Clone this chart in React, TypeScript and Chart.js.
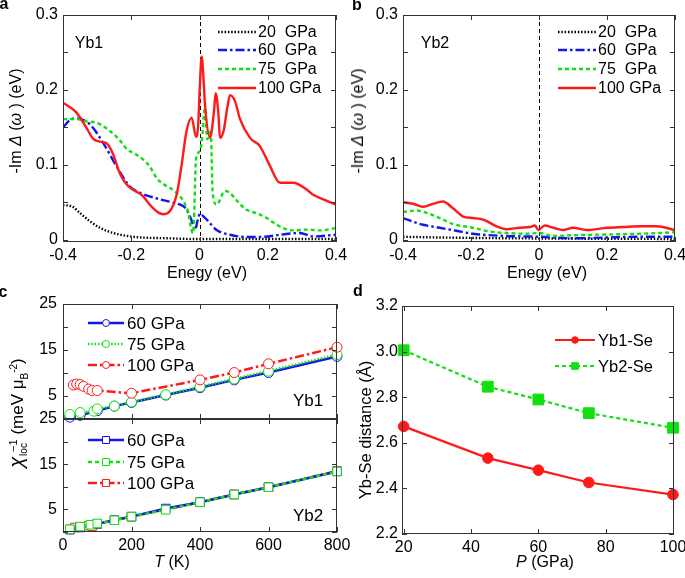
import React, { useEffect, useRef } from 'react';
import { Chart, registerables } from 'chart.js';
Chart.register(...registerables);

const FONT = '"Liberation Sans", Arial, Helvetica, sans-serif';
const W = 685;
const H = 578;

const RED = '#ff1a1a';
const BLUE = '#1414f0';
const GREEN = '#10e010';
const BLACK = '#000000';

// ---------- Panel a (Yb1) ----------
const A_BLACK_E = [-0.4, -0.376, -0.351, -0.322, -0.292, -0.253, -0.195, -0.097, 0.0, 0.4];
const A_BLACK_V = [0.046, 0.045, 0.036, 0.025, 0.016, 0.009, 0.004, 0.002, 0.001, 0.001];
const A_BLUE_E = [-0.4, -0.379, -0.361, -0.321, -0.282, -0.243, -0.204, -0.174, -0.146, -0.116, -0.072, -0.048, -0.0375, -0.025, -0.013, -0.006, 0.0015, 0.01, 0.021, 0.05, 0.089, 0.138, 0.19, 0.236, 0.294, 0.333, 0.4];
const A_BLUE_V = [0.15, 0.16, 0.162, 0.154, 0.129, 0.098, 0.071, 0.0625, 0.058, 0.054, 0.049, 0.045, 0.04, 0.028, 0.013, 0.025, 0.035, 0.032, 0.027, 0.013, 0.0067, 0.0036, 0.004, 0.0067, 0.009, 0.0045, 0.0067];
const A_GREEN_E = [-0.4, -0.361, -0.332, -0.301, -0.262, -0.234, -0.213, -0.19, -0.165, -0.146, -0.125, -0.105, -0.086, -0.057, -0.045, -0.033, -0.025, -0.018, -0.0103, -0.0035, 0.0064, 0.016, 0.0229, 0.0328, 0.0386, 0.05, 0.0747, 0.089, 0.11, 0.138, 0.17, 0.197, 0.22, 0.245, 0.275, 0.314, 0.353, 0.4];
const A_GREEN_V = [0.161, 0.161, 0.158, 0.156, 0.145, 0.133, 0.121, 0.115, 0.107, 0.098, 0.082, 0.074, 0.069, 0.058, 0.05, 0.036, 0.015, 0.009, 0.107, 0.116, 0.129, 0.176, 0.134, 0.147, 0.0625, 0.047, 0.065, 0.0625, 0.052, 0.04, 0.035, 0.029, 0.022, 0.0156, 0.0125, 0.0135, 0.0125, 0.0156];
const A_RED_E = [-0.4, -0.361, -0.332, -0.312, -0.292, -0.273, -0.253, -0.234, -0.214, -0.195, -0.165, -0.146, -0.126, -0.107, -0.087, -0.067, -0.053, -0.038, -0.0229, -0.0103, -0.004, 0.001, 0.0064, 0.013, 0.016, 0.0308, 0.035, 0.043, 0.0474, 0.055, 0.06, 0.071, 0.081, 0.0894, 0.104, 0.1187, 0.148, 0.177, 0.205, 0.236, 0.275, 0.314, 0.333, 0.363, 0.4];
const A_RED_V = [0.183, 0.17, 0.15, 0.135, 0.131, 0.129, 0.114, 0.089, 0.074, 0.067, 0.058, 0.047, 0.038, 0.034, 0.038, 0.06, 0.098, 0.145, 0.163, 0.1375, 0.152, 0.205, 0.2446, 0.205, 0.181, 0.136, 0.143, 0.174, 0.1955, 0.17, 0.136, 0.146, 0.175, 0.193, 0.185, 0.161, 0.136, 0.125, 0.1, 0.076, 0.076, 0.067, 0.06, 0.054, 0.047];

// ---------- Panel b (Yb2) ----------
const B_BLACK_E = [-0.4, -0.292, -0.096, 0.4];
const B_BLACK_V = [0.004, 0.003, 0.002, 0.001];
const B_BLUE_E = [-0.4, -0.341, -0.292, -0.243, -0.194, -0.096, 0.002, 0.1, 0.198, 0.296, 0.4];
const B_BLUE_V = [0.029, 0.02, 0.016, 0.012, 0.008, 0.005, 0.004, 0.002, 0.003, 0.004, 0.004];
const B_GREEN_E = [-0.4, -0.361, -0.331, -0.292, -0.253, -0.194, -0.145, -0.096, -0.037, 0.002, 0.041, 0.1, 0.198, 0.296, 0.4];
const B_GREEN_V = [0.037, 0.039, 0.036, 0.029, 0.021, 0.016, 0.011, 0.009, 0.008, 0.009, 0.005, 0.006, 0.007, 0.008, 0.01];
const B_RED_E = [-0.4, -0.371, -0.341, -0.312, -0.282, -0.253, -0.223, -0.194, -0.164, -0.125, -0.096, -0.057, -0.027, -0.012, -0.002, 0.017, 0.042, 0.071, 0.1, 0.14, 0.2, 0.248, 0.3, 0.346, 0.4];
const B_RED_V = [0.05, 0.048, 0.044, 0.048, 0.051, 0.042, 0.031, 0.029, 0.027, 0.018, 0.014, 0.016, 0.017, 0.019, 0.013, 0.019, 0.016, 0.013, 0.016, 0.013, 0.016, 0.017, 0.018, 0.018, 0.013];

const AB_LABELS = ['20  GPa', '60  GPa', '75  GPa', '100 GPa'];
const AB_X_TICKS = [-0.4, -0.2, 0, 0.2, 0.4];
const AB_Y_TICKS = [0, 0.05, 0.1, 0.15, 0.2, 0.25, 0.3];

// ---------- Panel c ----------
const C_LABELS = ['60 GPa', '75 GPa', '100 GPa'];
const C_X_TICKS = [0, 200, 400, 600, 800];
const C_Y_TICKS = [0, 5, 10, 15, 20, 25];
const C1_60_T = [20, 50, 100, 150, 200, 300, 400, 500, 600, 800];
const C1_60_V = [0.4, 0.8, 1.8, 2.8, 3.6, 5.2, 6.8, 8.5, 10.1, 13.6];
const C1_75_T = [20, 50, 90, 100, 150, 200, 300, 400, 500, 600, 800];
const C1_75_V = [1.0, 1.4, 1.7, 2.2, 2.8, 3.7, 5.3, 7.0, 8.7, 10.4, 14.0];
const C1_100_T = [30, 40, 50, 60, 75, 85, 100, 200, 400, 500, 600, 800];
const C1_100_V = [7.4, 7.6, 7.5, 7.1, 6.5, 6.2, 6.2, 5.6, 8.5, 10.1, 12.0, 15.6];
const C2_60_T = [20, 50, 100, 150, 200, 300, 400, 500, 600, 800];
const C2_60_V = [0.5, 1.0, 1.8, 2.65, 3.4, 5.2, 6.6, 8.3, 9.9, 13.4];
const C2_75_T = [20, 50, 80, 100, 150, 200, 300, 400, 500, 600, 800];
const C2_75_V = [0.6, 1.2, 1.6, 1.9, 2.6, 3.4, 4.9, 6.6, 8.3, 9.9, 13.4];
const C2_100_T = [20, 35, 50, 75, 85, 100, 200, 400, 500, 600, 800];
const C2_100_V = [0.6, 1.0, 1.1, 1.4, 1.3, 1.8, 3.4, 6.6, 8.3, 9.9, 13.5];

// ---------- Panel d ----------
const D_P = [20, 45, 60, 75, 100];
const D_YB1 = [2.672, 2.533, 2.48, 2.426, 2.373];
const D_YB2 = [3.006, 2.846, 2.79, 2.73, 2.666];
const D_LABELS = ['Yb1-Se', 'Yb2-Se'];
const D_X_TICKS = [20, 40, 60, 80, 100];
const D_Y_TICKS = [2.2, 2.4, 2.6, 2.8, 3.0, 3.2];

const pts = (xs: number[], ys: number[]) => xs.map((x, i) => ({ x, y: ys[i] }));

const decoPlugin = {
  id: 'deco',
  beforeDatasetsDraw(chart: any, _a: any, o: any) {
    if (o.vline === undefined) return;
    const ctx = chart.ctx;
    const { top, bottom } = chart.chartArea;
    const px = Math.round(chart.scales.x.getPixelForValue(o.vline)) + 0.5;
    ctx.save();
    ctx.strokeStyle = '#000';
    ctx.lineWidth = 1;
    ctx.setLineDash([4, 3]);
    ctx.beginPath();
    ctx.moveTo(px, top);
    ctx.lineTo(px, bottom);
    ctx.stroke();
    ctx.restore();
  },
  afterDraw(chart: any, _a: any, o: any) {
    const ctx = chart.ctx;
    const { left, right, top, bottom } = chart.chartArea;
    const xs = chart.scales.x;
    const ys = chart.scales.y;
    const L = 5;
    ctx.save();
    ctx.strokeStyle = '#333';
    ctx.lineWidth = 1;
    ctx.setLineDash([]);
    ctx.strokeRect(left + 0.5, top + 0.5, right - left - 1, bottom - top - 1);
    ctx.beginPath();
    for (const t of xs.ticks) {
      const px = Math.round(xs.getPixelForValue(t.value)) + 0.5;
      ctx.moveTo(px, bottom);
      ctx.lineTo(px, bottom - L);
      ctx.moveTo(px, top);
      ctx.lineTo(px, top + L);
    }
    for (const t of ys.ticks) {
      const py = Math.round(ys.getPixelForValue(t.value)) + 0.5;
      ctx.moveTo(left, py);
      ctx.lineTo(left + L, py);
      ctx.moveTo(right, py);
      ctx.lineTo(right - L, py);
    }
    ctx.stroke();
    const lg = o.legend;
    if (lg) {
      lg.items.forEach((it: any, i: number) => {
        const y = lg.rows[i];
        ctx.strokeStyle = it.color;
        ctx.lineWidth = it.width;
        ctx.setLineDash(it.dash || []);
        ctx.beginPath();
        ctx.moveTo(lg.x0, y);
        ctx.lineTo(lg.x1, y);
        ctx.stroke();
        ctx.setLineDash([]);
        if (it.marker) {
          const mx = (lg.x0 + lg.x1) / 2;
          const r = it.mr;
          ctx.beginPath();
          if (it.marker === 'circle') ctx.arc(mx, y, r, 0, Math.PI * 2);
          else ctx.rect(mx - r, y - r, 2 * r, 2 * r);
          ctx.fillStyle = it.mfill;
          ctx.fill();
          ctx.lineWidth = 1;
          ctx.strokeStyle = it.color;
          ctx.stroke();
        }
        ctx.fillStyle = '#000';
        ctx.font = lg.font;
        ctx.textAlign = 'left';
        ctx.textBaseline = 'middle';
        ctx.fillText(it.label, lg.tx, y + 1);
      });
    }
    ctx.restore();
  },
};

type Area = { l: number; r: number; t: number; b: number };

function makeConfig(p: {
  area: Area;
  datasets: any[];
  xMin: number; xMax: number; xTicks: number[]; xFmt: (v: number) => string; showX: boolean;
  yMin: number; yMax: number; yTicks: number[]; yFmt: (v: number) => string;
  yPad: number;
  deco: any;
}) {
  const YW = 40;
  const XH = p.showX ? 25 : 0;
  return {
    type: 'line',
    data: { datasets: p.datasets },
    plugins: [decoPlugin],
    options: {
      responsive: false,
      animation: false,
      events: [],
      layout: {
        autoPadding: false,
        padding: { left: p.area.l - YW, right: W - p.area.r, top: p.area.t, bottom: H - p.area.b - XH },
      },
      plugins: { legend: { display: false }, tooltip: { enabled: false }, deco: p.deco },
      scales: {
        x: {
          type: 'linear',
          min: p.xMin,
          max: p.xMax,
          afterFit: (s: any) => { s.height = XH; s.paddingLeft = 0; s.paddingRight = 0; },
          afterBuildTicks: (s: any) => { s.ticks = p.xTicks.map((v) => ({ value: v })); },
          grid: { display: false, drawTicks: false },
          border: { display: false },
          ticks: {
            display: p.showX, padding: 4, color: '#000', maxRotation: 0, autoSkip: false,
            font: { family: FONT, size: 16 },
            callback: (v: any) => p.xFmt(Number(v)),
          },
        },
        y: {
          type: 'linear',
          min: p.yMin,
          max: p.yMax,
          afterFit: (s: any) => { s.width = YW; s.paddingTop = 0; s.paddingBottom = 0; },
          afterBuildTicks: (s: any) => { s.ticks = p.yTicks.map((v) => ({ value: v })); },
          grid: { display: false, drawTicks: false },
          border: { display: false },
          ticks: {
            padding: p.yPad, color: '#000', autoSkip: false,
            font: { family: FONT, size: 16 },
            callback: (v: any) => p.yFmt(Number(v)),
          },
        },
      },
    },
  };
}

const lineDs = (xs: number[], ys: number[], color: string, dash: number[], width: number, order: number) => ({
  data: pts(xs, ys),
  borderColor: color,
  borderWidth: width,
  borderDash: dash,
  pointRadius: 0,
  fill: false,
  cubicInterpolationMode: 'monotone',
  order,
});

const markDs = (xs: number[], ys: number[], color: string, dash: number[], width: number, order: number, style: string, r: number, fillC: string) => ({
  data: pts(xs, ys),
  borderColor: color,
  borderWidth: width,
  borderDash: dash,
  pointStyle: style,
  pointRadius: r,
  pointBorderWidth: 1,
  pointBorderColor: color,
  pointBackgroundColor: fillC,
  fill: false,
  tension: 0,
  clip: false,
  order,
});

const DOT = [1.5, 1.8];
const DASHDOT = [9, 3, 2.5, 3];
const DASH = [4, 3];

const abFmtX = (v: number) => { const r = Math.round(v * 10); return r === 0 ? '0' : (r / 10).toFixed(1); };
const abFmtY = (v: number) => { const r = Math.round(v * 100); if (r % 10 !== 0) return ''; return r === 0 ? '0' : (r / 100).toFixed(1); };

const abLegend = (x0: number) => ({
  x0, x1: x0 + 38, tx: x0 + 40, rows: [32, 50, 69, 88],
  font: `16px ${FONT}`,
  items: [
    { label: AB_LABELS[0], color: BLACK, dash: DOT, width: 2.4 },
    { label: AB_LABELS[1], color: BLUE, dash: DASHDOT, width: 2.4 },
    { label: AB_LABELS[2], color: GREEN, dash: DASH, width: 2.4 },
    { label: AB_LABELS[3], color: RED, dash: [], width: 2.4 },
  ],
});

const cfgA = makeConfig({
  area: { l: 63, r: 336, t: 15, b: 242 },
  datasets: [
    lineDs(A_BLACK_E, A_BLACK_V, BLACK, DOT, 2.4, 3),
    lineDs(A_BLUE_E, A_BLUE_V, BLUE, DASHDOT, 2.4, 2),
    lineDs(A_GREEN_E, A_GREEN_V, GREEN, DASH, 2.4, 1),
    lineDs(A_RED_E, A_RED_V, RED, [], 2.4, 0),
  ],
  xMin: -0.4, xMax: 0.4, xTicks: AB_X_TICKS, xFmt: abFmtX, showX: true,
  yMin: -0.003, yMax: 0.3, yTicks: AB_Y_TICKS, yFmt: abFmtY, yPad: 5,
  deco: { vline: 0, legend: abLegend(218) },
});

const cfgB = makeConfig({
  area: { l: 403, r: 675, t: 15, b: 242 },
  datasets: [
    lineDs(B_BLACK_E, B_BLACK_V, BLACK, DOT, 2.4, 3),
    lineDs(B_BLUE_E, B_BLUE_V, BLUE, DASHDOT, 2.4, 2),
    lineDs(B_GREEN_E, B_GREEN_V, GREEN, DASH, 2.4, 1),
    lineDs(B_RED_E, B_RED_V, RED, [], 2.4, 0),
  ],
  xMin: -0.4, xMax: 0.4, xTicks: AB_X_TICKS, xFmt: abFmtX, showX: true,
  yMin: -0.003, yMax: 0.3, yTicks: AB_Y_TICKS, yFmt: abFmtY, yPad: 5,
  deco: { vline: 0, legend: abLegend(558) },
});

const cFmtY = (v: number) => (v % 10 === 5 ? String(v) : '');
const cFmtX = (v: number) => String(v);

const cLegend = (rows: number[], marker: string, greenDash: number[]) => ({
  x0: 88, x1: 124, tx: 127, rows,
  font: `17px ${FONT}`,
  items: [
    { label: C_LABELS[0], color: BLUE, dash: [], width: 2.5, marker, mr: marker === 'circle' ? 3.5 : 3.5, mfill: '#fff' },
    { label: C_LABELS[1], color: GREEN, dash: greenDash, width: 2.5, marker, mr: 3.5, mfill: '#fff' },
    { label: C_LABELS[2], color: RED, dash: DASHDOT, width: 2.5, marker, mr: 3.5, mfill: '#fff' },
  ],
});

const cfgC1 = makeConfig({
  area: { l: 63, r: 337, t: 304, b: 419 },
  datasets: [
    markDs(C1_60_T, C1_60_V, BLUE, [], 2.5, 2, 'circle', 5, '#fff'),
    markDs(C1_75_T, C1_75_V, GREEN, DOT, 2.5, 1, 'circle', 5, '#fff'),
    markDs(C1_100_T, C1_100_V, RED, DASHDOT, 2.5, 0, 'circle', 5, '#fff'),
  ],
  xMin: 0, xMax: 800, xTicks: C_X_TICKS, xFmt: cFmtX, showX: false,
  yMin: 0, yMax: 25, yTicks: C_Y_TICKS, yFmt: cFmtY, yPad: 6,
  deco: { legend: cLegend([323, 344, 365], 'circle', DOT) },
});

const cfgC2 = makeConfig({
  area: { l: 63, r: 337, t: 419, b: 532 },
  datasets: [
    markDs(C2_100_T, C2_100_V, RED, DASHDOT, 2.5, 2, 'rect', 6, '#fff'),
    markDs(C2_60_T, C2_60_V, BLUE, [], 2.5, 1, 'rect', 6, '#fff'),
    markDs(C2_75_T, C2_75_V, GREEN, DASH, 2.5, 0, 'rect', 6, '#fff'),
  ],
  xMin: 0, xMax: 800, xTicks: C_X_TICKS, xFmt: cFmtX, showX: true,
  yMin: 0, yMax: 25, yTicks: C_Y_TICKS, yFmt: cFmtY, yPad: 6,
  deco: { legend: cLegend([440, 462, 483], 'rect', DASH) },
});

const cfgD = makeConfig({
  area: { l: 402, r: 674, t: 306, b: 534 },
  datasets: [
    markDs(D_P, D_YB1, RED, [], 2.2, 1, 'circle', 5.3, RED),
    markDs(D_P, D_YB2, GREEN, DASH, 2.2, 0, 'rect', 7.6, GREEN),
  ],
  xMin: 19.5, xMax: 100.3, xTicks: D_X_TICKS, xFmt: (v) => String(v), showX: true,
  yMin: 2.2, yMax: 3.2, yTicks: D_Y_TICKS, yFmt: (v) => v.toFixed(1), yPad: 4,
  deco: {
    legend: {
      x0: 555, x1: 595, tx: 598, rows: [340, 366],
      font: `16.5px ${FONT}`,
      items: [
        { label: D_LABELS[0], color: RED, dash: [], width: 2.2, marker: 'circle', mr: 3.3, mfill: RED },
        { label: D_LABELS[1], color: GREEN, dash: DASH, width: 2.2, marker: 'rect', mr: 3.3, mfill: GREEN },
      ],
    },
  },
});

function ChartCanvas({ config }: { config: any }) {
  const ref = useRef<HTMLCanvasElement>(null);
  useEffect(() => {
    const c = new Chart(ref.current as HTMLCanvasElement, config);
    return () => c.destroy();
  }, [config]);
  return (
    <canvas
      ref={ref}
      width={W}
      height={H}
      style={{ position: 'absolute', left: 0, top: 0, width: W, height: H }}
    />
  );
}

function Txt(props: { x: number; y: number; size?: number; bold?: boolean; rot?: boolean; children: any }) {
  const { x, y, size = 16, bold = false, rot = false, children } = props;
  return (
    <div
      style={{
        position: 'absolute', left: x, top: y,
        transform: `translate(-50%, -50%)${rot ? ' rotate(-90deg)' : ''}`,
        fontFamily: FONT, fontSize: size, fontWeight: bold ? 'bold' : 'normal',
        lineHeight: 1, whiteSpace: 'nowrap', color: '#000',
      }}
    >
      {children}
    </div>
  );
}

export default function App() {
  return (
    <div style={{ position: 'absolute', left: 0, top: 0, width: W, height: H, overflow: 'hidden', background: '#fff' }}>
      <ChartCanvas config={cfgA} />
      <ChartCanvas config={cfgB} />
      <ChartCanvas config={cfgC1} />
      <ChartCanvas config={cfgC2} />
      <ChartCanvas config={cfgD} />

      <Txt x={4} y={4} bold>a</Txt>
      <Txt x={357} y={5} bold>b</Txt>
      <Txt x={3} y={292} bold>c</Txt>
      <Txt x={358} y={291} bold>d</Txt>

      <Txt x={89} y={43}>Yb1</Txt>
      <Txt x={435} y={43}>Yb2</Txt>
      <Txt x={207} y={273}>Enegy (eV)</Txt>
      <Txt x={547} y={273}>Enegy (eV)</Txt>
      <Txt x={15.5} y={121} rot>-Im <i>Δ</i> (<i>ω</i> ) (eV)</Txt>
      <Txt x={357.5} y={121} rot>-Im <i>Δ</i> (<i>ω</i> ) (eV)</Txt>

      <Txt x={308} y={400} size={17}>Yb1</Txt>
      <Txt x={308} y={515} size={17}>Yb2</Txt>
      <Txt x={172} y={562}><i>T</i> (K)</Txt>
      <Txt x={545} y={562}><i>P</i> (GPa)</Txt>
      <Txt x={365} y={430} size={16.5} rot>Yb-Se distance (Å)</Txt>
      <Txt x={18} y={413} size={17} rot>
        <i style={{ fontSize: 20 }}>χ</i>
        <span style={{ display: 'inline-flex', flexDirection: 'column', verticalAlign: 'middle', lineHeight: 1, marginLeft: 1 }}>
          <span style={{ fontSize: 11, marginLeft: 4 }}>−1</span>
          <span style={{ fontSize: 10 }}>loc</span>
        </span>
        {' '}(meV μ<sub style={{ fontSize: 10 }}>B</sub><sup style={{ fontSize: 10 }}>-2</sup>)
      </Txt>
    </div>
  );
}
